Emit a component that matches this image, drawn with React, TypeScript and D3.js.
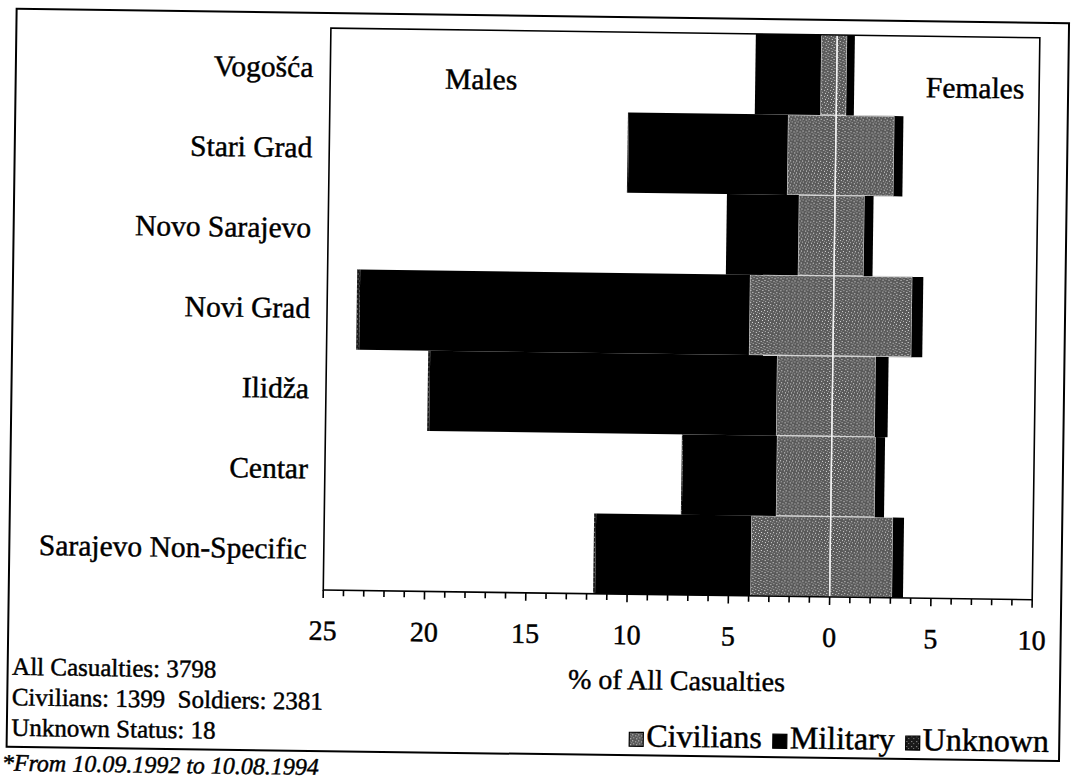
import React from 'react';
import * as d3 from 'd3';

// ---- data (percent of all casualties) ----
const categories = ['Vogošća', 'Stari Grad', 'Novo Sarajevo', 'Novi Grad', 'Ilidža', 'Centar', 'Sarajevo Non-Specific'];
const maleCivilians = [0.79, 2.38, 1.79, 4.15, 2.76, 2.71, 3.92];
const maleMilitary = [3.23, 7.85, 3.55, 19.24, 17.12, 4.64, 7.66];
const maleUnknown = [0, 0.05, 0, 0.15, 0.1, 0.05, 0.1];
const femaleCivilians = [0.49, 2.88, 1.46, 3.87, 2.12, 2.17, 3.08];
const femaleMilitary = [0.38, 0.44, 0.44, 0.54, 0.63, 0.46, 0.54];
const femaleUnknown = [0, 0, 0, 0, 0, 0, 0];
const xTickValues = [-25, -20, -15, -10, -5, 0, 5, 10];
const xTickLabels = ['25', '20', '15', '10', '5', '0', '5', '10'];
const summaryLines = ['All Casualties: 3798', 'Civilians: 1399  Soldiers: 2381', 'Unknown Status: 18'];
const legendLabels = ['Civilians', 'Military', 'Unknown'];
const footnote = '*From 10.09.1992 to 10.08.1994';

const FONT = '"Liberation Serif", Tinos, "Times New Roman", "DejaVu Serif", serif';

export default function App() {
  const W = 1071, H = 779;
  const left = 326, right = 1035, top = 31, bottom = 593;

  const x = d3.scaleLinear().domain([-25, 10]).range([left, right]);
  const y = d3.scaleBand<string>().domain(categories).range([top, bottom]).padding(0);

  const rows = categories.map((c, i) => ({
    cat: c,
    maleCiv: -maleCivilians[i],
    femaleCiv: femaleCivilians[i],
    maleMil: -maleMilitary[i],
    femaleMil: femaleMilitary[i],
    maleUnk: -maleUnknown[i],
    femaleUnk: femaleUnknown[i],
  }));
  const keys = ['maleCiv', 'femaleCiv', 'maleMil', 'femaleMil', 'maleUnk', 'femaleUnk'];
  const stack = d3.stack<any>().keys(keys).offset(d3.stackOffsetDiverging);
  const series = stack(rows);

  const fillFor = (k: string) =>
    k.endsWith('Civ') ? 'url(#civPat)' : k.endsWith('Mil') ? '#000' : 'url(#unkPat)';

  const minorTicks = d3.range(-25, 11);

  // legend layout
  const lfs = 32;
  const legendWidths = [3.612 * lfs, 3.278 * lfs, 3.944 * lfs];
  const sw = 14;
  const legendItems: { sx: number; tx: number; label: string }[] = [];
  let cx = 634;
  legendLabels.forEach((lab, i) => {
    legendItems.push({ sx: cx, tx: cx + sw + 3, label: lab });
    cx += sw + 3 + legendWidths[i] + 11;
  });

  const txt = { fontFamily: FONT, fill: '#000', stroke: '#000', strokeWidth: 0.45 } as React.CSSProperties;

  return (
    <svg width={W} height={H} style={{ position: 'absolute', left: 0, top: 0, background: '#fff', fontFamily: FONT }}>
      <defs>
        <pattern id="civPat" width="6" height="6" patternUnits="userSpaceOnUse">
          <rect width="6" height="6" fill="#5a5a5a" />
          <rect x="1" y="1" width="1" height="1" fill="#e8e8e8" />
          <rect x="4" y="2" width="1" height="1" fill="#d0d0d0" />
          <rect x="2" y="4" width="1" height="1" fill="#bdbdbd" />
          <rect x="5" y="5" width="1" height="1" fill="#e0e0e0" />
          <rect x="0" y="3" width="1" height="1" fill="#9a9a9a" />
        </pattern>
        <pattern id="unkPat" width="5" height="5" patternUnits="userSpaceOnUse">
          <rect width="5" height="5" fill="#1a1a1a" />
          <rect x="1" y="1" width="1" height="1" fill="#aaa" />
          <rect x="3" y="3" width="1" height="1" fill="#888" />
        </pattern>
      </defs>
      <g transform="rotate(0.78 540 390)">
        {/* outer frame */}
        <rect x={11.5} y={16} width={1052.5} height={738} fill="none" stroke="#000" strokeWidth={2} />

        {/* bars */}
        {series.map((s: any) => (
          <g key={s.key}>
            {s.map((d: any) => {
              const x0 = x(Math.min(d[0], d[1]));
              const x1 = x(Math.max(d[0], d[1]));
              const isCiv = (s.key as string).endsWith('Civ');
              return (
                <rect key={d.data.cat} x={x0} y={y(d.data.cat)} width={Math.max(0, x1 - x0)} height={y.bandwidth()}
                  fill={fillFor(s.key)} stroke={isCiv ? '#d4d4d4' : 'none'} strokeWidth={isCiv ? 1.2 : 0} />
              );
            })}
          </g>
        ))}
        {/* zero line */}
        <line x1={x(0)} x2={x(0)} y1={top} y2={bottom} stroke="#f2f2f2" strokeWidth={1.5} />

        {/* plot border */}
        <rect x={left} y={top} width={right - left} height={bottom - top} fill="none" stroke="#000" strokeWidth={1.6} />

        {/* ticks */}
        {minorTicks.map(v => (
          <line key={v} x1={x(v)} x2={x(v)} y1={bottom} y2={bottom + (v % 5 === 0 ? 8 : 6)} stroke="#000" strokeWidth={1.6} />
        ))}
        {xTickValues.map((v, i) => (
          <text key={i} x={x(v)} y={643} textAnchor="middle" fontSize={28} style={txt}>{xTickLabels[i]}</text>
        ))}
        <text x={(left + right) / 2} y={688} textAnchor="middle" fontSize={28} style={txt}>% of All Casualties</text>

        {/* category labels */}
        {categories.map(c => (
          <text key={c} x={309} y={(y(c) as number) + y.bandwidth() / 2 + 9} textAnchor="end" fontSize={29.5} style={txt}>{c}</text>
        ))}

        {/* side labels */}
        <text x={477} y={90} textAnchor="middle" fontSize={29.5} style={txt}>Males</text>
        <text x={971} y={92} textAnchor="middle" fontSize={29.5} style={txt}>Females</text>

        {/* summary */}
        {summaryLines.map((t, i) => (
          <text key={i} x={16} y={682 + i * 30.5} fontSize={25} style={{ ...txt, whiteSpace: 'pre' }}>{t}</text>
        ))}

        {/* legend */}
        {legendItems.map((it, i) => (
          <g key={it.label}>
            <rect x={it.sx} y={731} width={sw} height={sw}
              fill={i === 0 ? 'url(#civPat)' : i === 1 ? '#000' : 'url(#unkPat)'}
              stroke="#000" strokeWidth={1.2} />
            <text x={it.tx} y={745} fontSize={lfs} style={txt}>{it.label}</text>
          </g>
        ))}

        {/* footnote */}
        <text x={7} y={778} fontSize={24} fontStyle="italic" style={txt}>{footnote}</text>
      </g>
    </svg>
  );
}
